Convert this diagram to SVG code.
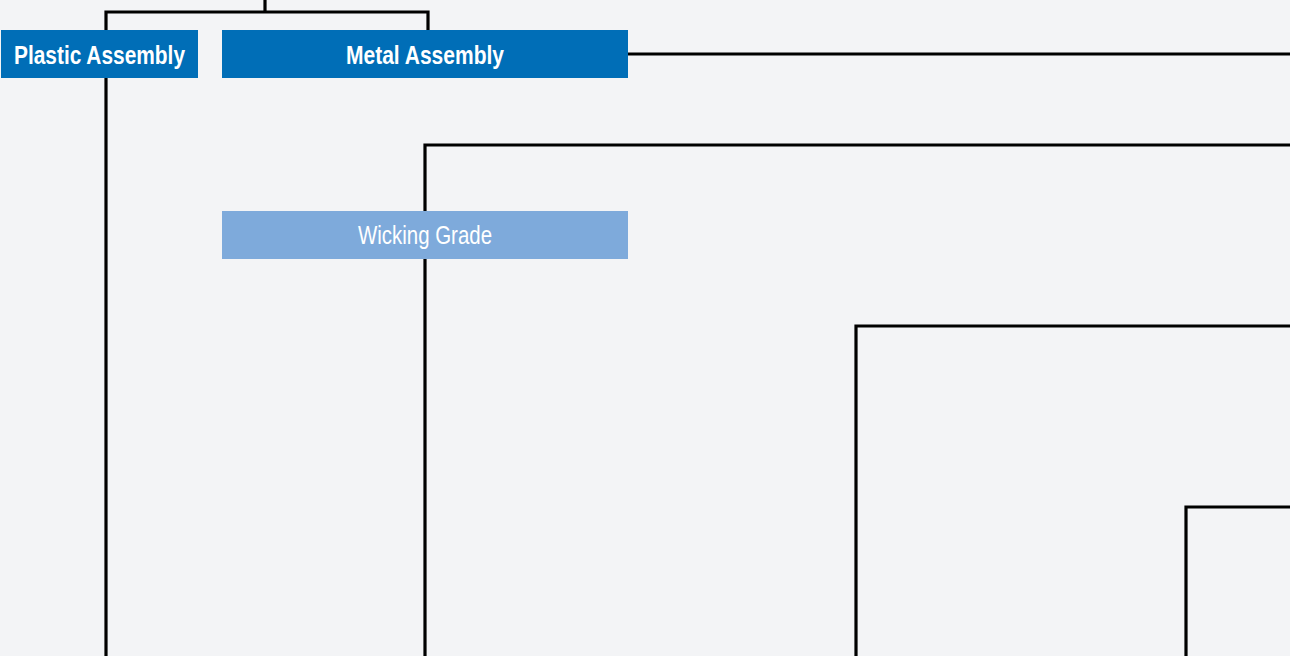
<svg xmlns="http://www.w3.org/2000/svg" width="1290" height="656" viewBox="0 0 1290 656">
<style>
.bg{fill:#f3f4f6}
.conn{fill:none;stroke:#000;stroke-width:3.2;stroke-linejoin:miter}
.dark{fill:#006eb7}
.light{fill:#7eaadb}
.t{font-family:"Liberation Sans",Arial,sans-serif;font-size:25px;fill:#fff;text-anchor:middle}
.b{font-weight:bold}
</style>
<rect class="bg" x="0" y="0" width="1290" height="656"/>
<g id="connectors">
<path class="conn" d="M265,0 V12"/>
<path class="conn" d="M106,30 V12 H428 V30"/>
<path class="conn" d="M106,78 V656"/>
<path class="conn" d="M628,54 H1290"/>
<path class="conn" d="M425,656 V145 H1290"/>
<path class="conn" d="M856,656 V326 H1290"/>
<path class="conn" d="M1186,656 V507 H1290"/>
</g>
<g id="plastic-assembly">
<rect class="dark" x="1" y="30" width="197" height="48"/>
<text class="t b" x="99.5" y="63.5" textLength="171" lengthAdjust="spacingAndGlyphs">Plastic Assembly</text>
</g>
<g id="metal-assembly">
<rect class="dark" x="222" y="30" width="406" height="48"/>
<text class="t b" x="425" y="63.5" textLength="158" lengthAdjust="spacingAndGlyphs">Metal Assembly</text>
</g>
<g id="wicking-grade">
<rect class="light" x="222" y="211" width="406" height="48"/>
<text class="t" x="425" y="243.5" textLength="134" lengthAdjust="spacingAndGlyphs">Wicking Grade</text>
</g>
</svg>
